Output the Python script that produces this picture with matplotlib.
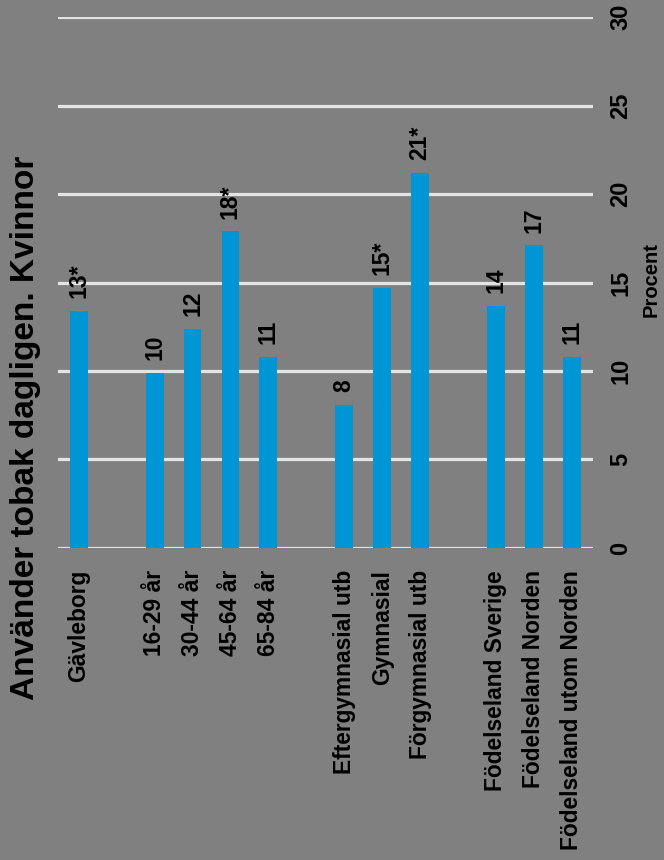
import matplotlib
matplotlib.use("Agg")
import matplotlib.pyplot as plt

plt.rcParams['font.family'] = ['Liberation Sans', 'DejaVu Sans']

# Data (gaps between groups are empty slots)
categories = ["Gävleborg",
              "16-29 år", "30-44 år", "45-64 år", "65-84 år",
              "Eftergymnasial utb", "Gymnasial", "Förgymnasial utb",
              "Födelseland Sverige", "Födelseland Norden", "Födelseland utom Norden"]
positions = [0, 2, 3, 4, 5, 7, 8, 9, 11, 12, 13]
values = [13.4, 9.9, 12.4, 17.9, 10.8, 8.1, 14.7, 21.2, 13.7, 17.1, 10.8]
labels = ["13*", "10", "12", "18*", "11", "8", "15*", "21*", "14", "17", "11"]
yticks = [0, 5, 10, 15, 20, 25, 30]

BG = '#808080'
BLUE = '#0096D6'
GRID = '#E4E4E4'

fig = plt.figure(figsize=(6.64, 8.6), dpi=100, facecolor=BG)
ax = fig.add_axes([0.0873, 0.3628, 0.8057, 0.6174])
ax.set_facecolor(BG)

ax.bar(positions, values, width=0.47, color=BLUE, zorder=3)
for x, v, lab in zip(positions, values, labels):
    ax.annotate(lab, (x, v), xytext=(0, 9), textcoords='offset points',
                rotation=90, ha='center', va='bottom', fontsize=16.5,
                fontweight='bold')

ax.set_xlim(-0.55, 13.56)
ax.set_ylim(0, 30)
ax.set_yticks(yticks)
ax.yaxis.tick_right()
ax.tick_params(axis='y', length=0, pad=12, labelsize=17, labelrotation=90)
for t in ax.get_yticklabels():
    t.set_va('center')
    t.set_fontweight('bold')
ax.set_xticks(positions)
ax.set_xticklabels(categories, rotation=90, fontsize=16.4, fontweight='bold')
ax.tick_params(axis='x', length=0, pad=16)

for y in yticks:
    ax.axhline(y, color=GRID, lw=2.3, zorder=1, solid_capstyle='round')
for s in ax.spines.values():
    s.set_visible(False)

fig.text(0.981, 0.675, "Procent", rotation=90, ha='center', va='center',
         fontsize=14.5, fontweight='bold')
fig.text(0.038, 0.503, "Använder tobak dagligen. Kvinnor", rotation=90,
         ha='center', va='center', fontsize=24, fontweight='bold')

fig.savefig("out.png", dpi=100, facecolor=BG)
